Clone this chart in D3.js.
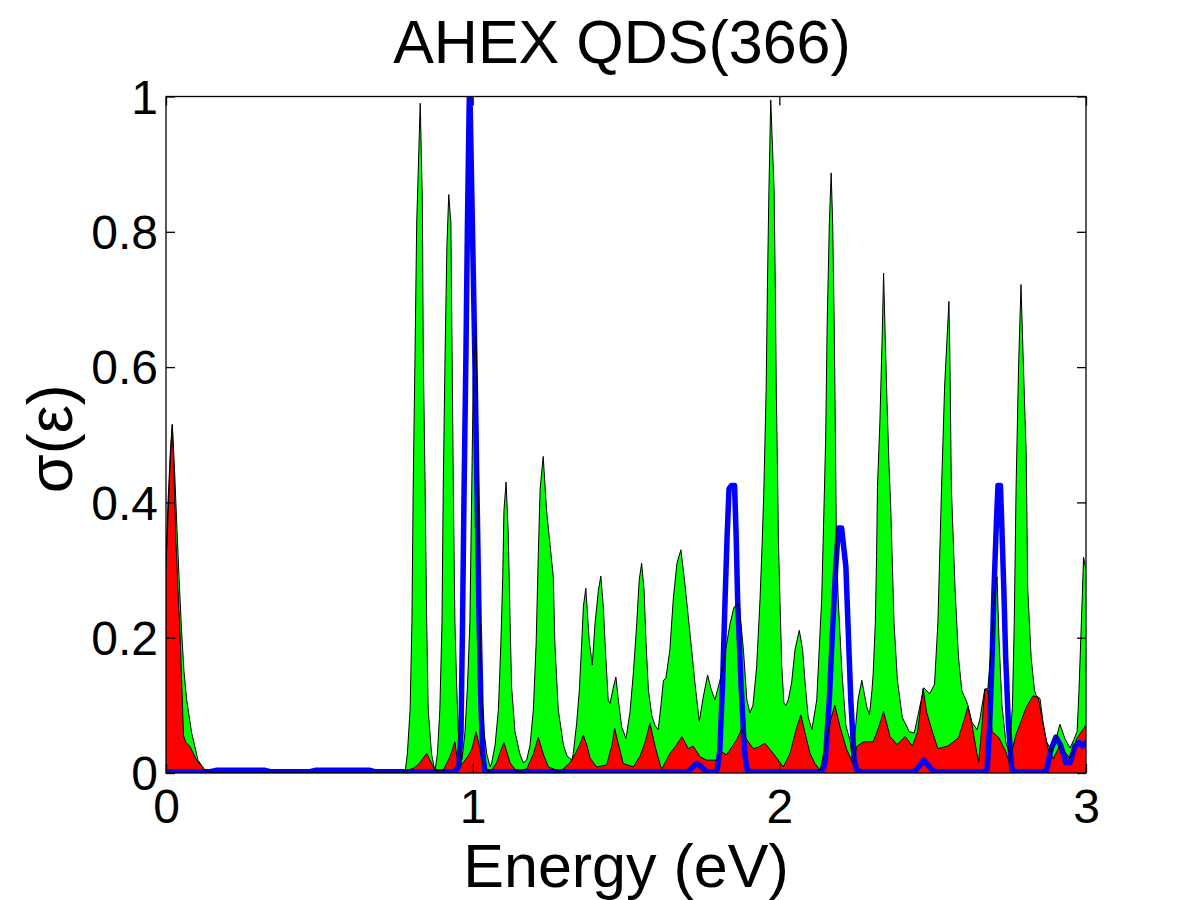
<!DOCTYPE html>
<html>
<head>
<meta charset="utf-8">
<script src="https://cdn.jsdelivr.net/npm/d3@7/dist/d3.min.js"></script>
<style>
  html, body { margin: 0; padding: 0; background: #ffffff; }
  svg { display: block; }
  text { font-family: "Liberation Sans", Arial, Helvetica, sans-serif; fill: #000; }
</style>
</head>
<body>
<svg id="chart" width="1200" height="900"></svg>
<script>
// ---------------- data (energy in eV, sigma) ----------------
const titleText = "AHEX QDS(366)";
const xLabelText = "Energy (eV)";
const yLabelText = "σ(ε)";
const xTicks = [0, 1, 2, 3];
const yTicks = [0, 0.2, 0.4, 0.6, 0.8, 1];
const yTickLabels = ["0", "0.2", "0.4", "0.6", "0.8", "1"];

// total (green) spectrum
const greenE = [0,0.0065,0.0147,0.0205,0.0277,0.0359,0.0424,0.0512,0.0587,0.0675,0.0838,0.1043,0.1272,0.150,
  0.763,0.779,0.787,0.796,0.802,0.806,0.812,0.8175,0.826,0.829,0.836,0.839,0.845,0.850,0.855,0.866,0.877,
  0.885,0.893,0.900,0.904,0.910,0.916,0.922,0.929,0.933,0.937,0.942,0.948,0.953,0.961,0.965,
  0.969,0.975,0.983,0.991,0.997,1.002,1.010,1.015,1.018,1.024,1.029,1.037,1.046,1.057,
  1.062,1.073,1.084,1.092,1.098,1.102,1.109,1.116,1.122,1.127,1.138,1.154,1.165,
  1.176,1.187,1.198,1.207,1.214,1.220,1.230,1.241,1.254,1.263,1.268,1.279,1.296,1.308,1.324,
  1.328,1.339,1.348,1.356,1.361,1.369,1.380,1.390,1.399,1.410,1.418,1.426,1.434,1.442,1.448,
  1.458,1.467,1.475,1.486,1.500,1.513,1.524,1.535,1.543,1.551,1.559,1.565,1.573,1.584,1.595,1.605,
  1.614,1.622,1.630,1.643,1.654,1.666,1.679,1.692,1.703,1.714,1.725,1.739,1.751,1.766,1.777,1.790,
  1.812,1.826,1.839,1.852,1.866,1.875,1.883,1.894,1.904,1.914,1.926,1.937,1.944,1.949,
  1.957,1.961,1.966,1.972,1.983,1.987,1.990,1.995,1.997,2.002,2.008,2.015,2.022,
  2.029,2.040,2.051,2.065,2.076,2.084,2.094,2.106,2.122,2.138,2.143,2.151,2.156,2.163,2.169,
  2.174,2.179,2.183,2.186,2.192,2.204,2.217,2.230,2.236,2.247,2.257,2.269,2.285,2.294,
  2.302,2.306,2.313,2.317,2.320,2.328,2.335,2.340,2.345,2.351,2.358,2.363,2.374,2.385,2.401,
  2.424,2.440,2.452,2.471,2.490,2.506,2.517,2.529,2.539,2.553,2.556,2.561,2.573,2.584,2.595,
  2.611,2.615,2.628,2.645,2.654,2.670,2.680,2.694,2.703,2.710,2.716,2.726,2.739,2.749,
  2.760,2.766,2.772,2.780,2.788,2.796,2.805,2.810,2.821,2.832,2.838,2.850,2.860,2.871,
  2.888,2.902,2.915,2.932,2.948,2.961,2.971,2.977,2.987,2.992,3.000];
const greenS = [0.31,0.40,0.48,0.515,0.45,0.36,0.29,0.207,0.15,0.108,0.059,0.019,0.004,0,
  0,0,0.028,0.094,0.224,0.42,0.617,0.813,0.944,0.99,0.845,0.617,0.42,0.224,0.094,0.028,0.003,
  0.028,0.094,0.224,0.42,0.617,0.78,0.855,0.813,0.617,0.42,0.224,0.127,0.061,0.022,0.02,
  0.035,0.061,0.127,0.224,0.42,0.584,0.662,0.551,0.42,0.224,0.127,0.061,0.028,0.009,
  0.015,0.041,0.094,0.192,0.29,0.388,0.43,0.355,0.224,0.127,0.061,0.028,0.015,
  0.019,0.041,0.094,0.192,0.323,0.42,0.468,0.388,0.33,0.29,0.192,0.094,0.041,0.025,0.019,
  0.029,0.073,0.123,0.196,0.246,0.273,0.196,0.16,0.221,0.27,0.291,0.246,0.172,0.108,0.103,
  0.125,0.142,0.108,0.068,0.051,0.09,0.148,0.221,0.285,0.31,0.27,0.196,0.123,0.085,0.07,0.064,
  0.1,0.137,0.14,0.182,0.256,0.31,0.33,0.28,0.231,0.182,0.132,0.076,0.11,0.145,0.125,0.108,
  0.147,0.185,0.22,0.245,0.25,0.22,0.182,0.108,0.089,0.1,0.157,0.256,0.34,0.41,
  0.566,0.713,0.861,0.995,0.861,0.713,0.566,0.418,0.344,0.256,0.157,0.103,0.1,
  0.108,0.133,0.182,0.211,0.182,0.133,0.083,0.064,0.108,0.256,0.344,0.492,0.664,0.812,0.887,
  0.812,0.664,0.492,0.344,0.256,0.15,0.07,0.049,0.03,0.06,0.11,0.137,0.098,0.086,
  0.122,0.147,0.222,0.32,0.422,0.52,0.64,0.739,0.65,0.55,0.45,0.397,0.222,0.137,0.082,
  0.061,0.059,0.085,0.126,0.117,0.131,0.222,0.422,0.572,0.697,0.622,0.422,0.272,0.172,0.122,
  0.105,0.1,0.075,0.064,0.08,0.124,0.125,0.2,0.27,0.29,0.2,0.1,0.045,0.031,
  0.097,0.222,0.422,0.6,0.722,0.6,0.472,0.272,0.172,0.122,0.114,0.11,0.075,0.047,
  0.031,0.05,0.072,0.05,0.037,0.05,0.061,0.12,0.25,0.319,0.30];

// partial (red) spectrum
const redE = [0,0.0065,0.0147,0.0205,0.0261,0.0326,0.0391,0.0457,0.0522,0.0571,0.0652,0.0783,0.1001,0.1272,0.160,
  0.763,0.785,0.806,0.822,0.839,0.850,0.866,0.877,0.904,0.926,0.942,0.953,0.969,0.985,0.997,1.011,1.024,1.035,
  1.057,1.078,1.089,1.102,1.112,1.122,1.144,1.176,1.198,1.214,1.230,1.247,1.285,1.317,1.334,1.347,1.361,
  1.373,1.383,1.404,1.437,1.454,1.463,1.474,1.491,1.524,1.546,1.562,1.578,1.595,1.616,1.643,1.663,1.682,
  1.703,1.719,1.741,1.763,1.796,1.812,1.828,1.861,1.877,1.894,1.915,1.931,1.953,1.980,2.013,2.035,2.057,
  2.070,2.084,2.100,2.116,2.133,2.154,2.168,2.181,2.198,2.220,2.241,2.252,2.274,2.306,2.322,2.340,2.361,
  2.384,2.410,2.434,2.451,2.460,2.469,2.480,2.501,2.517,2.550,2.584,2.605,2.615,2.628,2.645,2.650,2.661,
  2.670,2.680,2.694,2.716,2.739,2.749,2.772,2.805,2.827,2.844,2.860,2.876,2.893,2.915,2.948,2.971,2.993,3.000];
const redS = [0.30,0.38,0.47,0.515,0.44,0.34,0.27,0.207,0.12,0.055,0.045,0.039,0.019,0.004,0,
  0,0.004,0.007,0.012,0.022,0.029,0.014,0.004,0.004,0.024,0.046,0.009,0.015,0.025,0.035,0.061,0.035,0.009,
  0.002,0.015,0.03,0.045,0.03,0.015,0.002,0.006,0.028,0.053,0.028,0.009,0.002,0.015,0.028,0.04,0.056,
  0.04,0.022,0.009,0.012,0.041,0.066,0.045,0.014,0.009,0.025,0.045,0.074,0.039,0.005,0.029,0.04,0.054,
  0.036,0.04,0.024,0.019,0.019,0.031,0.027,0.049,0.065,0.049,0.036,0.038,0.044,0.029,0.009,0.029,0.068,
  0.086,0.059,0.029,0.014,0.004,0.049,0.08,0.1,0.068,0.034,0.014,0.039,0.046,0.046,0.065,0.091,0.054,
  0.042,0.054,0.04,0.061,0.095,0.125,0.09,0.058,0.036,0.04,0.052,0.082,0.099,0.072,0.027,0.016,0.072,
  0.124,0.122,0.061,0.052,0.031,0.016,0.057,0.097,0.114,0.112,0.072,0.036,0.021,0.041,0.021,0.052,0.066,0.072];

// blue spectrum
const blueE = [0,0.1435,0.1663,0.3228,0.3391,0.4696,0.4891,0.6652,0.6815,0.942,0.955,0.962,0.967,0.972,0.978,
  0.983,0.990,0.999,1.007,1.014,1.021,1.027,1.033,1.040,1.702,1.715,1.732,1.748,1.761,1.792,1.798,1.806,
  1.815,1.823,1.830,1.836,1.844,1.854,1.859,1.864,1.875,1.886,1.894,1.901,2.136,2.143,2.150,2.163,2.173,
  2.184,2.193,2.203,2.217,2.225,2.233,2.244,2.253,2.263,2.439,2.452,2.472,2.491,2.504,2.671,2.678,2.686,
  2.694,2.700,2.708,2.713,2.721,2.725,2.732,2.738,2.747,2.758,2.765,2.870,2.886,2.902,2.918,2.935,2.948,
  2.964,2.977,2.987,3.000];
const blueS = [0.002,0.002,0.004,0.004,0.002,0.002,0.004,0.004,0.002,0.002,0.01,0.06,0.224,0.42,0.617,
  0.813,1.03,0.813,0.617,0.42,0.224,0.1,0.028,0.002,0.002,0.008,0.014,0.008,0.002,0.002,0.006,0.034,
  0.133,0.256,0.354,0.42,0.425,0.425,0.354,0.256,0.133,0.034,0.006,0.002,0.002,0.006,0.019,0.108,0.206,
  0.305,0.362,0.362,0.305,0.206,0.108,0.019,0.004,0.002,0.002,0.008,0.019,0.008,0.002,0.002,0.006,0.072,
  0.172,0.272,0.372,0.425,0.425,0.372,0.272,0.172,0.072,0.006,0.002,0.002,0.035,0.053,0.04,0.015,0.015,
  0.04,0.045,0.04,0.045];

// ---------------- drawing ----------------
const svg = d3.select("#chart");
const x = d3.scaleLinear().domain([0, 3]).range([166, 1086]);
const y = d3.scaleLinear().domain([0, 1]).range([773, 96.5]);

const zip = (E, S) => E.map((e, i) => ({ e: e, s: S[i] }));
const green = zip(greenE, greenS);
const red = zip(redE, redS);
const blue = zip(blueE, blueS);

svg.append("defs").append("clipPath").attr("id", "plotclip")
  .append("rect")
  .attr("x", x(0)).attr("y", y(1))
  .attr("width", x(3) - x(0)).attr("height", y(0) - y(1));

const plot = svg.append("g").attr("clip-path", "url(#plotclip)");

const area = d3.area().x(d => x(d.e)).y0(y(0)).y1(d => y(d.s));
const line = d3.line().x(d => x(d.e)).y(d => y(d.s));

plot.append("path").datum(green).attr("d", area).attr("fill", "#00ff00");
plot.append("path").datum(red).attr("d", area).attr("fill", "#ff0000");

plot.append("path").datum(blue).attr("d", line)
  .attr("fill", "none").attr("stroke", "#0000ff")
  .attr("stroke-width", 5.5).attr("stroke-linejoin", "round").attr("stroke-linecap", "round");

plot.append("path").datum(green).attr("d", line)
  .attr("fill", "none").attr("stroke", "#000").attr("stroke-width", 1);
plot.append("path").datum(red).attr("d", line)
  .attr("fill", "none").attr("stroke", "#000").attr("stroke-width", 1);

// axes box and ticks (MATLAB style: inward ticks on all four sides)
const tickLen = 9;
const axes = svg.append("g");
axes.append("rect")
  .attr("x", x(0)).attr("y", y(1))
  .attr("width", x(3) - x(0)).attr("height", y(0) - y(1))
  .attr("fill", "none").attr("stroke", "#000").attr("stroke-width", 1.3);

const bottomAxis = d3.axisBottom(x).tickValues(xTicks).tickSize(-tickLen).tickPadding(15).tickFormat(d3.format("d"));
const topAxis = d3.axisTop(x).tickValues(xTicks).tickSize(-tickLen).tickFormat("");
const leftAxis = d3.axisLeft(y).tickValues(yTicks).tickSize(-tickLen).tickPadding(8)
  .tickFormat((d, i) => yTickLabels[i]);
const rightAxis = d3.axisRight(y).tickValues(yTicks).tickSize(-tickLen).tickFormat("");

function styleAxis(g) {
  g.select(".domain").remove();
  g.selectAll(".tick line").attr("stroke", "#000").attr("stroke-width", 1.3);
  g.selectAll(".tick text")
    .style("font-family", '"Liberation Sans", Arial, Helvetica, sans-serif')
    .style("font-size", "48px").attr("fill", "#000");
}

axes.append("g").attr("transform", `translate(0,${y(0)})`).call(bottomAxis).call(styleAxis)
  .selectAll(".tick text").attr("dy", "0.72em");
axes.append("g").attr("transform", `translate(0,${y(1)})`).call(topAxis).call(styleAxis);
axes.append("g").attr("transform", `translate(${x(0)},0)`).call(leftAxis).call(styleAxis)
  .selectAll(".tick text").attr("dy", "0.35em");
axes.append("g").attr("transform", `translate(${x(3)},0)`).call(rightAxis).call(styleAxis);

// titles
svg.append("text")
  .attr("x", (x(0) + x(3)) / 2 - 4).attr("y", 63)
  .attr("text-anchor", "middle")
  .style("font-size", "61px")
  .text(titleText);

svg.append("text")
  .attr("x", (x(0) + x(3)) / 2).attr("y", 887)
  .attr("text-anchor", "middle")
  .style("font-size", "61px")
  .text(xLabelText);

svg.append("text")
  .attr("transform", `translate(72, ${(y(0) + y(1)) / 2 + 4}) rotate(-90)`)
  .attr("text-anchor", "middle")
  .style("font-size", "63px")
  .text(yLabelText);
</script>
</body>
</html>
